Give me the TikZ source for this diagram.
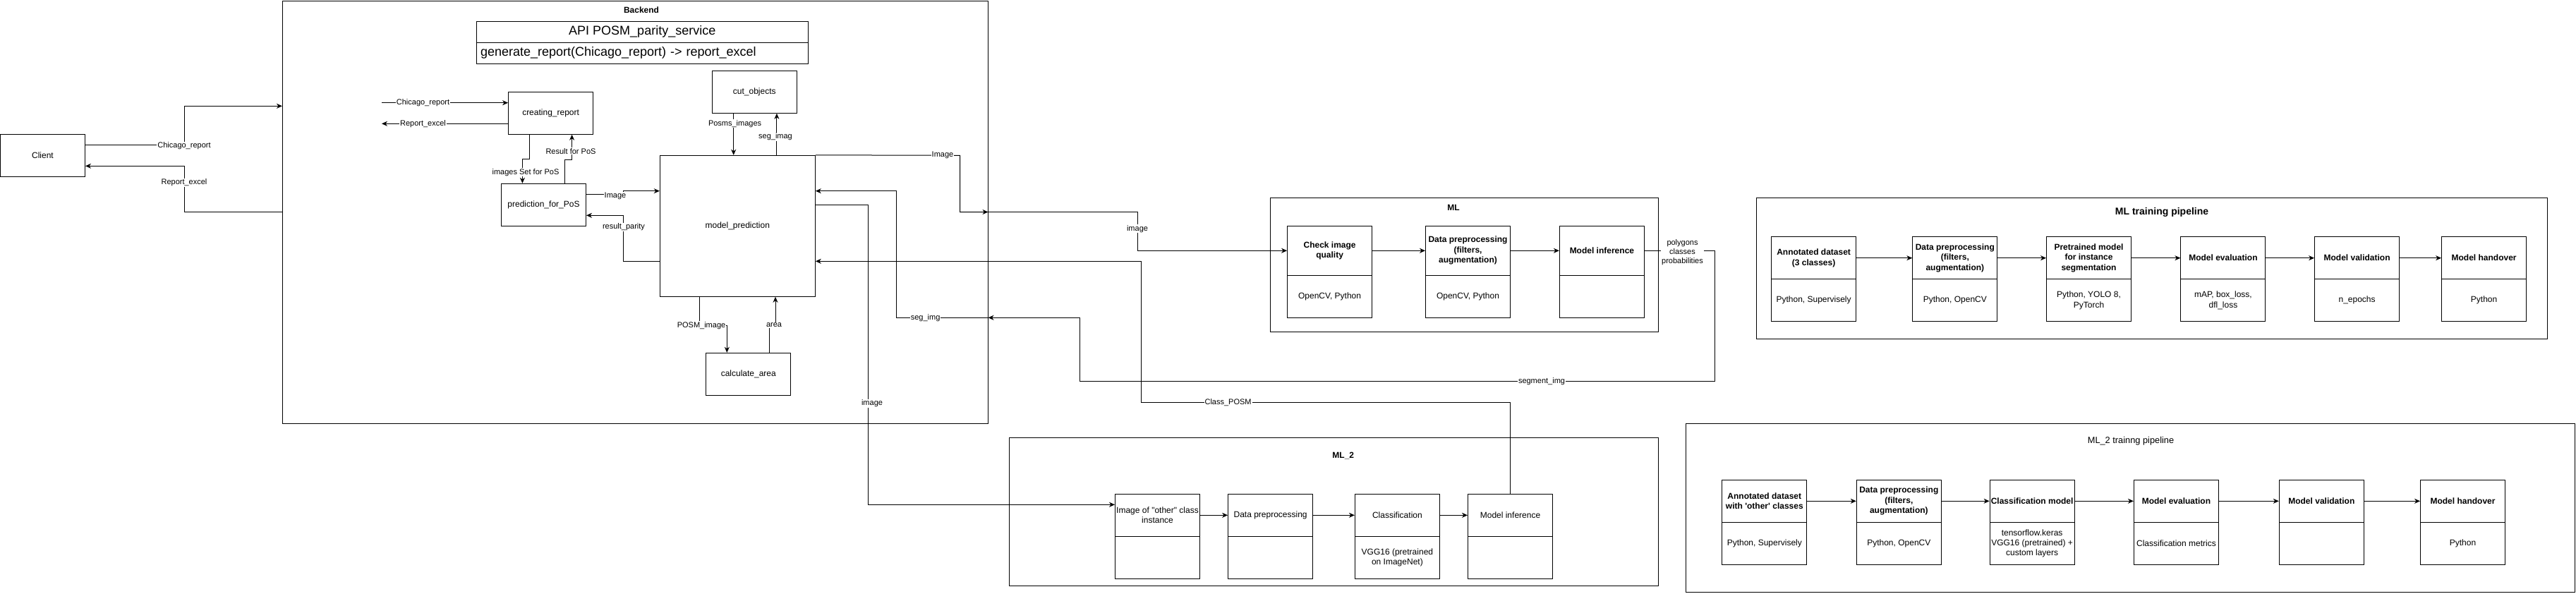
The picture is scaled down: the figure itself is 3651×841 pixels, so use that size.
\documentclass[tikz,border=0pt]{standalone}
\usepackage{fontspec}
\newfontfamily\lsans{Liberation Sans}
\usetikzlibrary{arrows.meta}
\newcommand\fBox{\lsans\fontsize{12}{14.4}\selectfont}
\newcommand\fBoxB{\lsans\bfseries\fontsize{12}{14.4}\selectfont}
\newcommand\fEdge{\lsans\fontsize{11}{13}\selectfont}
\newcommand\fApi{\lsans\fontsize{18}{21.6}\selectfont}
\newcommand\fTitle{\lsans\fontsize{12.8}{15.4}\selectfont}
\newcommand\fTitleB{\lsans\bfseries\fontsize{14}{16.8}\selectfont}
\begin{document}
\begin{tikzpicture}[x=1pt,y=-1pt,
  cont/.style={draw=black, line width=1pt, inner sep=0pt},
  cell/.style={draw=black, line width=1pt, minimum width=120pt, minimum height=60pt, align=center, font=\fBox, inner sep=1pt},
  bcell/.style={cell, font=\fBoxB},
  ttl/.style={font=\fBoxB, inner sep=1pt},
  elabel/.style={font=\fEdge, fill=white, inner sep=1pt, align=center},
  ln/.style={line width=1pt, draw=black},
  conn/.style={ln, -{Stealth[length=8pt,width=7pt,inset=2.5pt]}}
]
\fill[white] (0,0) rectangle (3651,841);
\useasboundingbox (0,0) rectangle (3651,841);

% ---------------- Client and Backend ----------------
\node[cell] (client) at (60.5,220.3) {Client};
\node[cont, minimum width=999.5pt, minimum height=599pt] (backend) at (900.25,300.5) {};
\node[ttl] (backendt) at (909,14.7) {Backend};

\node[draw, line width=1pt, minimum width=470.5pt, minimum height=30pt, inner sep=0pt, font=\fApi] (apihead) at (910.25,45.3) {API POSM\_parity\_service};
\node[draw, line width=1pt, minimum height=30pt, text width=458.5pt, inner xsep=6pt, inner ysep=0pt, align=left, font=\fApi] (apirow) at (910.25,75.3) {generate\_report(Chicago\_report) -> report\_excel};

\node[cell] (creport) at (780.6,160.3) {creating\_report};
\node[cell] (pred) at (770.5,290.3) {prediction\_for\_PoS};
\node[cell] (cut) at (1069.3,130.3) {cut\_objects};
\node[cell, minimum width=220pt, minimum height=200pt] (mpred) at (1045.3,320.3) {model\_prediction};
\node[cell] (calc) at (1060.8,530.3) {calculate\_area};

\coordinate (cin) at (541,145.7);
\coordinate (rout) at (541,175.3);

% ---------------- ML ----------------
\node[cont, minimum width=550pt, minimum height=190pt] (ml) at (2075.5,375.3) {};
\node[ttl] (mlt) at (2060,294.7) {ML};
\node[bcell, minimum height=70pt] (check) at (1884.6,355.3) {Check image\\quality};
\node[cell] (checkb) at (1884.6,420.3) {OpenCV, Python};
\node[bcell, minimum height=70pt] (mlpre) at (2080.5,355.3) {Data preprocessing\\(filters,\\augmentation)};
\node[cell] (mlpreb) at (2080.5,420.3) {OpenCV, Python};
\node[bcell, minimum height=70pt] (mlinf) at (2270.4,355.3) {Model inference};
\node[cell] (mlinfb) at (2270.4,420.3) {};

% ---------------- ML_2 ----------------
\node[cont, minimum width=919.7pt, minimum height=210pt] (mltwo) at (1890.45,725.3) {};
\node[ttl] (mltwot) at (1903.8,646) {ML\_2};
\node[cell] (ma) at (1640.5,730.3) {Image of "other" class\\instance};
\node[cell] (mab) at (1640.5,790.3) {};
\node[cell] (mb) at (1800.6,730.3) {Data preprocessing};
\node[cell] (mbb) at (1800.6,790.3) {};
\node[cell] (mc) at (1980.4,730.3) {Classification};
\node[cell] (mcb) at (1980.4,790.3) {VGG16 (pretrained\\on ImageNet)};
\node[cell] (md) at (2140.5,730.3) {Model inference};
\node[cell] (mdb) at (2140.5,790.3) {};

% ---------------- ML training pipeline ----------------
\node[cont, minimum width=1121pt, minimum height=200pt] (mlt1) at (3050.2,380.3) {};
\node[font=\fTitleB, inner sep=1pt] (mlt1t) at (3064,300.7) {ML training pipeline};
\node[bcell] (ta) at (2570.6,365.7) {Annotated dataset\\(3 classes)};
\node[cell] (tab) at (2570.6,425.7) {Python, Supervisely};
\node[bcell] (tb) at (2770.8,365.7) {Data preprocessing\\(filters,\\augmentation)};
\node[cell] (tbb) at (2770.8,425.7) {Python, OpenCV};
\node[bcell] (tc) at (2960.5,365.7) {Pretrained model\\for instance\\segmentation};
\node[cell] (tcb) at (2960.5,425.7) {Python, YOLO 8,\\PyTorch};
\node[bcell] (td) at (3150.9,365.7) {Model evaluation};
\node[cell] (tdb) at (3150.9,425.7) {mAP, box\_loss,\\dfl\_loss};
\node[bcell] (te) at (3340.6,365.7) {Model validation};
\node[cell] (teb) at (3340.6,425.7) {n\_epochs};
\node[bcell] (tf) at (3520.6,365.7) {Model handover};
\node[cell] (tfb) at (3520.6,425.7) {Python};

% ---------------- ML_2 training pipeline ----------------
\node[cont, minimum width=1259.6pt, minimum height=239.4pt] (mlt2) at (3019.5,720) {};
\node[font=\fTitle, inner sep=1pt] (mlt2t) at (3020,625) {ML\_2 trainng pipeline};
\node[bcell] (ua) at (2500.8,710.3) {Annotated dataset\\with 'other' classes};
\node[cell] (uab) at (2500.8,770.3) {Python, Supervisely};
\node[bcell] (ub) at (2691.3,710.3) {Data preprocessing\\(filters,\\augmentation)};
\node[cell] (ubb) at (2691.3,770.3) {Python, OpenCV};
\node[bcell] (uc) at (2880.1,710.3) {Classification model};
\node[cell] (ucb) at (2880.1,770.3) {tensorflow.keras\\VGG16 (pretrained) +\\custom layers};
\node[bcell] (ud) at (3084.4,710.3) {Model evaluation};
\node[cell] (udb) at (3084.4,770.3) {Classification metrics};
\node[bcell] (ue) at (3290.3,710.3) {Model validation};
\node[cell] (ueb) at (3290.3,770.3) {};
\node[bcell] (uf) at (3490.5,710.3) {Model handover};
\node[cell] (ufb) at (3490.5,770.3) {Python};

% ---------------- connectors ----------------
\draw[conn] ([yshift=15pt]client.east) -- (261,205.3) -- (261,150.3) -- ([yshift=150.2pt]backend.west);
\draw[conn] (backend.west) -- (261,300.5) -- (261,235.3) -- ([yshift=-15pt]client.east);
\draw[conn] (cin) -- ([yshift=14.6pt]creport.west);
\draw[conn] ([yshift=-15pt]creport.west) -- (rout);
\draw[conn] ([xshift=-30pt]creport.south) -- (750.6,225.7) -- (740.4,225.7) -- ([xshift=-30.1pt]pred.north);
\draw[conn] ([xshift=29.9pt]pred.north) -- (800.4,226) -- (810.6,226) -- ([xshift=30pt]creport.south);
\draw[conn] ([yshift=15pt]pred.east) -- (883,275.3) -- (883,270.7) -- ([yshift=49.6pt]mpred.west);
\draw[conn] ([yshift=-50pt]mpred.west) -- (883,370.3) -- (883,305.3) -- ([yshift=-15pt]pred.east);
\draw[conn] ([xshift=-29.6pt]cut.south) -- ([xshift=-5.6pt]mpred.north);
\draw[conn] ([xshift=55.6pt]mpred.north) -- ([xshift=31.6pt]cut.south);
\draw[conn] ([xshift=-54.3pt]mpred.south) -- (991,461) -- (1030.3,461) -- ([xshift=-30.5pt]calc.north);
\draw[conn] ([xshift=29.2pt]calc.north) -- (1090,461) -- (1099,461) -- ([xshift=53.7pt]mpred.south);
\draw[conn] (mpred.north east) -- (1360.5,220.3) -- (1360.5,300.5) -- (backend.east);
\draw[conn] (backend.east) -- (1612,300.5) -- (1612,355.3) -- (check.west);
\draw[conn] (check.east) -- (mlpre.west);
\draw[conn] (mlpre.east) -- (mlinf.west);
\draw[conn] (mlinf.east) -- (2430.4,355.3) -- (2430.4,540.3) -- (1530.7,540.3) -- (1530.7,450.3) -- ([yshift=-149.8pt]backend.east);
\draw[conn] ([yshift=-149.8pt]backend.east) -- (1270.5,450.3) -- (1270.5,270.7) -- ([yshift=49.6pt]mpred.east);
\draw[conn] ([yshift=30pt]mpred.east) -- (1230,290.3) -- (1230,715.3) -- ([yshift=15pt]ma.west);
\draw[conn] (md.north) -- (2140.5,570.3) -- (1617.5,570.3) -- (1617.5,370.3) -- ([yshift=-50pt]mpred.east);
\draw[conn] (ma.east) -- (mb.west);
\draw[conn] (mb.east) -- (mc.west);
\draw[conn] (mc.east) -- (md.west);
\draw[conn] (ta.east) -- (tb.west);
\draw[conn] (tb.east) -- (tc.west);
\draw[conn] (tc.east) -- (td.west);
\draw[conn] (td.east) -- (te.west);
\draw[conn] (te.east) -- (tf.west);
\draw[conn] (ua.east) -- (ub.west);
\draw[conn] (ub.east) -- (uc.west);
\draw[conn] (uc.east) -- (ud.west);
\draw[conn] (ud.east) -- (ue.west);
\draw[conn] (ue.east) -- (uf.west);

% ---------------- edge labels ----------------
\node[elabel] (l1) at (261,207) {Chicago\_report};
\node[elabel] (l2) at (261,259) {Report\_excel};
\node[elabel] (l3) at (599.5,145.7) {Chicago\_report};
\node[elabel] (l4) at (599.5,176) {Report\_excel};
\node[elabel] (l5) at (745,244.3) {images Set for PoS};
\node[elabel] (l6) at (809,214.3) {Result for PoS};
\node[elabel] (l7) at (872,278.3) {Image};
\node[elabel] (l8) at (884,321.7) {result\_parity};
\node[elabel] (l9) at (1041.6,175.3) {Posms\_images};
\node[elabel] (l10) at (1099,193.7) {seg\_imag};
\node[elabel] (l11) at (994,461.3) {POSM\_image};
\node[elabel] (l12) at (1097,461) {area};
\node[elabel] (l13) at (1336,220.3) {Image};
\node[elabel] (l14) at (1612,324.3) {image};
\node[elabel] (l15) at (2384.5,357.3) {polygons\\classes\\probabilities};
\node[elabel] (l16) at (2185,540.3) {segment\_img};
\node[elabel] (l17) at (1311.6,450.3) {seg\_img};
\node[elabel] (l18) at (1236,571.7) {image};
\node[elabel] (l19) at (1740.6,570.3) {Class\_POSM};
\end{tikzpicture}
\end{document}
